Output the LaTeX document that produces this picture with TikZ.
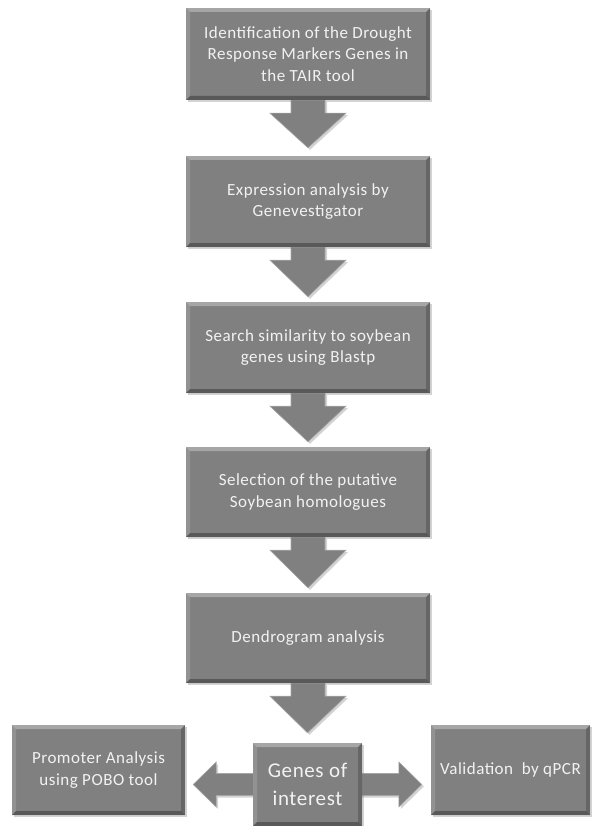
\documentclass[tikz,border=0pt]{standalone}
\usepackage{fontspec}
\setmainfont{Carlito}[LetterSpace=3]
\usetikzlibrary{calc,shadows,backgrounds}
\definecolor{boxgray}{RGB}{128,128,128}
\definecolor{txtgray}{RGB}{242,242,242}
\tikzset{
  boxbevel/.style={path picture={
    \fill[white,opacity=.30] (path picture bounding box.north west) -- (path picture bounding box.north east)
      -- ([xshift=-4pt,yshift=-4pt]path picture bounding box.north east) -- ([xshift=4pt,yshift=-4pt]path picture bounding box.north west) -- cycle;
    \fill[white,opacity=.15] (path picture bounding box.north west) -- ([xshift=4pt,yshift=-4pt]path picture bounding box.north west)
      -- ([xshift=4pt,yshift=4pt]path picture bounding box.south west) -- (path picture bounding box.south west) -- cycle;
    \fill[black,opacity=.20] (path picture bounding box.north east) -- ([xshift=-4pt,yshift=-4pt]path picture bounding box.north east)
      -- ([xshift=-4pt,yshift=4pt]path picture bounding box.south east) -- (path picture bounding box.south east) -- cycle;
    \fill[black,opacity=.30] (path picture bounding box.south west) -- ([xshift=4pt,yshift=4pt]path picture bounding box.south west)
      -- ([xshift=-4pt,yshift=4pt]path picture bounding box.south east) -- (path picture bounding box.south east) -- cycle;
  }},
  box/.style={fill=boxgray, text=txtgray, align=center, inner sep=0pt, boxbevel,
    font=\fontsize{17}{21.5}\selectfont,
    drop shadow={shadow xshift=2pt,shadow yshift=-2pt,opacity=.35}},
  blockarrow/.style={fill=boxgray, draw=gray!70!white, line width=.6pt, line join=miter,
    drop shadow={shadow xshift=2pt,shadow yshift=-2pt,opacity=.35}}
}
\begin{document}
\begin{tikzpicture}[x=1pt,y=-1pt]
\useasboundingbox (0,0) rectangle (595,826);

% steps
\node[box,minimum width=244pt,minimum height=92pt] (b1) at (308,54) {Identification of the Drought\\Response Markers Genes in\\the TAIR tool};
\node[box,minimum width=244pt,minimum height=91pt] (b2) at (308,201.5) {Expression analysis by\\Genevestigator};
\node[box,minimum width=244pt,minimum height=91pt] (b3) at (308,347.5) {Search similarity to soybean\\genes using Blastp};
\node[box,minimum width=244pt,minimum height=90pt] (b4) at (308,492) {Selection of the putative\\Soybean homologues};
\node[box,minimum width=244pt,minimum height=90pt] (b5) at (308,638) {Dendrogram analysis};

% last row
\node[box,minimum width=173pt,minimum height=90pt] (p) at (98.5,770) {Promoter Analysis\\using POBO tool};
\node[box,minimum width=109pt,minimum height=83pt,font=\fontsize{21}{28}\selectfont] (g) at (307.5,784.5) {Genes of\\interest};
\node[box,minimum width=159pt,minimum height=90pt] (v) at (510.5,770) {Validation\ \ by qPCR};

\coordinate (lt) at ($(p.east |- g.center)+(8,0)$);
\coordinate (rt) at ($(v.west |- g.center)+(-9,0)$);

\begin{scope}[on background layer]
\foreach \a/\b/\t in {b1/b2/8,b2/b3/5,b3/b4/5,b4/b5/5,b5/g/10}
  \fill[blockarrow] ($(\a.south)+(-17,0)$) -- ++(34,0) -- ++(0,13) -- ++(21,0) -- ($(\b.north)+(0,-\t)$)
    -- ($(\a.south)+(-38,13)$) -- ++(21,0) -- cycle;

\fill[blockarrow] (lt) -- ++(23,-22.5) -- ++(0,11.5) -- ($(rt)+(-23,-11)$) -- ++(0,-11.5) -- (rt)
  -- ++(-23,22.5) -- ++(0,-11.5) -- ($(lt)+(23,11)$) -- ++(0,11.5) -- cycle;
\end{scope}
\end{tikzpicture}
\end{document}
